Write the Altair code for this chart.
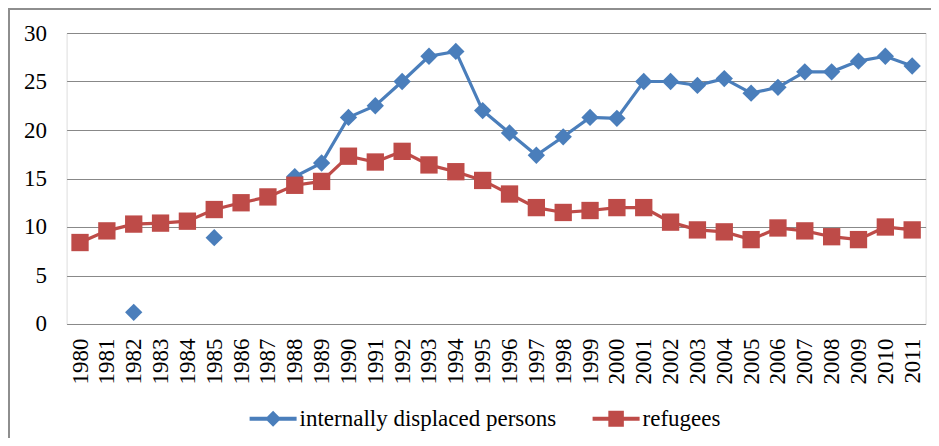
import altair as alt
import pandas as pd

years = [str(y) for y in range(1980, 2012)]
idp = [None, None, 1.2, None, None, 8.9, None, None, 15.2, 16.6, 21.3, 22.5, 25.0, 27.6, 28.1,
       22.0, 19.7, 17.4, 19.3, 21.3, 21.2, 25.0, 25.0, 24.6, 25.3, 23.8, 24.4, 26.0, 26.0,
       27.1, 27.6, 26.6]
refugees = [8.4, 9.6, 10.3, 10.4, 10.6, 11.8, 12.5, 13.1, 14.3, 14.7, 17.3, 16.7, 17.8, 16.4,
            15.7, 14.8, 13.4, 12.0, 11.5, 11.7, 12.0, 12.0, 10.5, 9.7, 9.5, 8.7, 9.9, 9.6, 9.0,
            8.7, 10.0, 9.7]
series_names = ["internally displaced persons", "refugees"]
colors = ["#4A7EBB", "#BE4B48"]
y_ticks = [0, 5, 10, 15, 20, 25, 30]

rows = []
for name, vals in zip(series_names, [idp, refugees]):
    for yr, v in zip(years, vals):
        rows.append({"year": yr, "value": v, "series": name})
df = pd.DataFrame(rows)

FONT = "Liberation Serif"
W, H = 859, 291

x_enc = alt.X("year:O", sort=years,
              scale=alt.Scale(type="point", padding=0.5),
              axis=alt.Axis(title=None, labelAngle=270, labelFontSize=23, labelFont=FONT,
                            labelColor="#000000", labelPadding=14, ticks=False, domain=False,
                            grid=False, labelOverlap=False))
y_enc = alt.Y("value:Q", scale=alt.Scale(domain=[0, 30], nice=False),
              axis=alt.Axis(title=None, values=y_ticks, labelFontSize=23, labelFont=FONT,
                            labelColor="#000000", labelPadding=20, ticks=False, domain=False,
                            grid=True, gridColor="#888888", gridWidth=1))
color_scale = alt.Scale(domain=series_names, range=colors)

diamond_line = "M-1,-0.09H1V0.09H-1Z M0,-0.34L0.34,0L0,0.34L-0.34,0Z"
square_line = "M-1,-0.09H1V0.09H-1Z M-0.33,-0.34H0.33V0.34H-0.33Z"

base = alt.Chart(df)

def series_layers(name, shape, col):
    d = base.transform_filter(alt.datum.series == name)
    line = d.mark_line(strokeWidth=3.2, color=col,
                       invalid="break-paths-filter-domains").encode(x=x_enc, y=y_enc)
    pts = d.mark_point(shape=shape, filled=True, size=300, opacity=1, color=col,
                       invalid="filter").encode(x=x_enc, y=y_enc)
    return [line, pts]

legend_layer = base.mark_point(filled=True, opacity=1, invalid="filter").encode(
    x=x_enc, y=y_enc,
    size=alt.value(0),
    color=alt.Color("series:N", scale=color_scale,
                    legend=alt.Legend(title=None, orient="none", legendX=183, legendY=362,
                                      direction="horizontal", labelFont=FONT,
                                      labelFontSize=23, labelColor="#000000",
                                      symbolSize=2209, symbolOpacity=1, padding=0,
                                      labelOffset=3, columnPadding=36,
                                      symbolStrokeWidth=0, labelLimit=400)),
    shape=alt.Shape("series:N", scale=alt.Scale(domain=series_names,
                                                 range=[diamond_line, square_line])),
)

border_df = pd.DataFrame({"k": [0]})
border_left = alt.Chart(border_df).mark_rule(color="#8e8e8e", strokeWidth=2).encode(
    x=alt.value(-57.6), y=alt.value(-25), y2=alt.value(420))
border_top = alt.Chart(border_df).mark_rule(color="#8e8e8e", strokeWidth=2).encode(
    x=alt.value(-58.6), x2=alt.value(880), y=alt.value(-24))

layers = (series_layers(series_names[0], "diamond", colors[0])
          + series_layers(series_names[1], "square", colors[1]))

chart = alt.layer(border_left, border_top, *layers, legend_layer).properties(
    width=W, height=H,
    autosize=alt.AutoSizeParams(type="none"),
    padding={"left": 58.6, "top": 25, "right": 5, "bottom": 114},
).configure_view(stroke=None).configure(background="#ffffff")

chart.save("out.html", embed_options={"renderer": "svg", "actions": False})
